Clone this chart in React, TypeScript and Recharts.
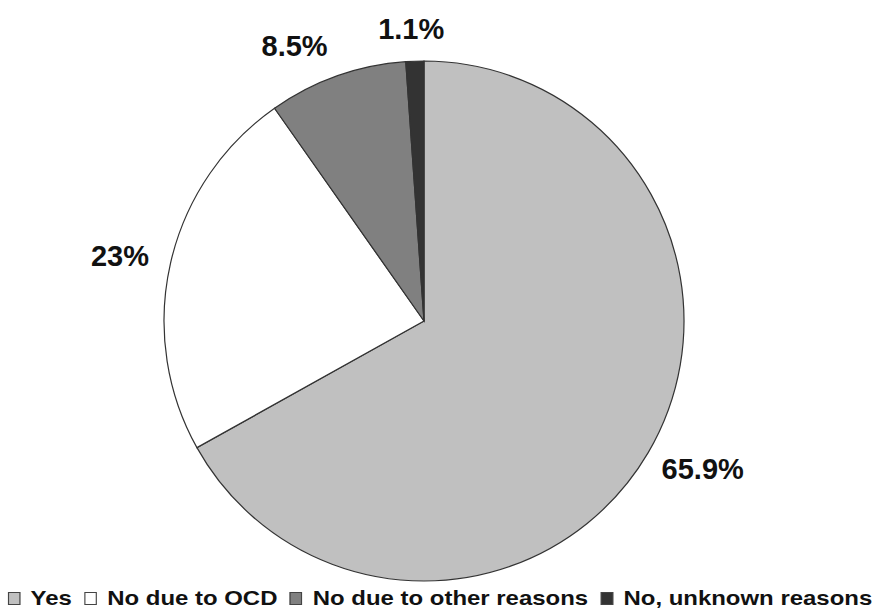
import { PieChart, Pie, Cell, Legend } from "recharts";

const categories = ["Yes", "No due to OCD", "No due to other reasons", "No, unknown reasons"];
const values = [65.9, 23, 8.5, 1.1];
const valueLabels = ["65.9%", "23%", "8.5%", "1.1%"];
const colors = ["#C0C0C0", "#FFFFFF", "#808080", "#333333"];

const data = categories.map((name, i) => ({ name, value: values[i], label: valueLabels[i] }));

const RAD = Math.PI / 180;

const renderLabel = (props: any) => {
  const { cx, cy, outerRadius, midAngle, index } = props;
  const cos = Math.cos(-midAngle * RAD);
  const sin = Math.sin(midAngle * RAD);
  const r = outerRadius + 19;
  const x = cx + r * cos - 3;
  const y = cy - r * sin - sin * 13;
  const anchor = cos > 0.1 ? "start" : cos < -0.1 ? "end" : "middle";
  return (
    <text
      x={x}
      y={y}
      textAnchor={anchor}
      dominantBaseline="central"
      fontFamily="'Liberation Sans', Arial, sans-serif"
      fontWeight="bold"
      fontSize={29}
      fill="#111"
    >
      {valueLabels[index]}
    </text>
  );
};

const renderLegend = () => (
  <div
    style={{
      display: "flex",
      alignItems: "center",
      justifyContent: "center",
      fontFamily: "'Liberation Sans', Arial, sans-serif",
      fontWeight: "bold",
      fontSize: 21,
      lineHeight: "18px",
      height: 18,
      color: "#111",
      whiteSpace: "nowrap",
      transform: "scaleX(1.14)",
      transformOrigin: "center",
    }}
  >
    {categories.map((c, i) => (
      <div key={c} style={{ display: "flex", alignItems: "center", marginRight: i < categories.length - 1 ? 11 : 0 }}>
        <span
          style={{
            display: "inline-block",
            width: 9,
            height: 11,
            background: colors[i],
            border: "1px solid #444",
            marginRight: 9,
          }}
        />
        <span>{c}</span>
      </div>
    ))}
  </div>
);

export default function App() {
  return (
    <div style={{ position: "absolute", left: 0, top: 0, width: 880, height: 609, background: "#fff" }}>
      <PieChart width={880} height={609} margin={{ top: 0, right: 0, bottom: 0, left: 0 }}>
        <Pie
          data={data}
          dataKey="value"
          nameKey="name"
          cx={424}
          cy={321}
          outerRadius={260}
          startAngle={90}
          endAngle={-270}
          stroke="#333"
          strokeWidth={1.2}
          label={renderLabel}
          labelLine={false}
          isAnimationActive={false}
        >
          {data.map((d, i) => (
            <Cell key={d.name} fill={colors[i]} />
          ))}
        </Pie>
        <Legend
          content={renderLegend}
          wrapperStyle={{ position: "absolute", left: 0, top: 589, width: 880, height: 18 }}
        />
      </PieChart>
    </div>
  );
}
